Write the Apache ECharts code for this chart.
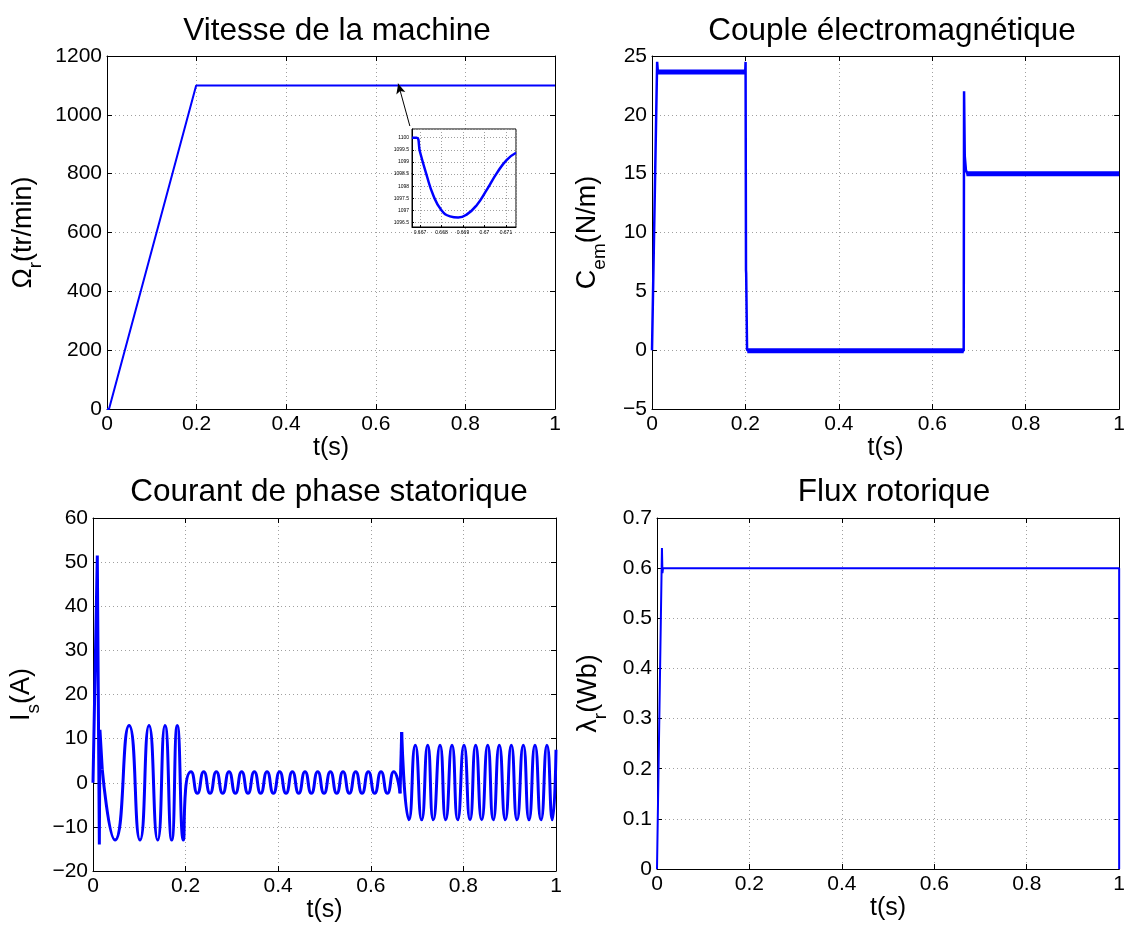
<!DOCTYPE html>
<html>
<head>
<meta charset="utf-8">
<script src="https://cdn.jsdelivr.net/npm/echarts@6/dist/echarts.min.js"></script>
<style>
html, body { margin: 0; padding: 0; background: #fff; }
#main { width: 1128px; height: 926px; }
</style>
</head>
<body>
<div id="main"></div>
<script>
// values (t in seconds)

// Vitesse de la machine (tr/min)
var speedT = [0, 0.0045, 0.199, 1];
var speedV = [0, 0, 1100, 1100];

// zoom around t = 0.667 (inset)
var zoomT = [0.66663, 0.66685, 0.6670, 0.66731, 0.66762, 0.6680, 0.6684, 0.66878, 0.66917, 0.66964, 0.6701, 0.67057, 0.67103, 0.67147];
var zoomV = [1100, 1100, 1099.42, 1098.46, 1097.63, 1097.01, 1096.76, 1096.71, 1096.83, 1097.22, 1097.84, 1098.53, 1099.08, 1099.38];

// Couple electromagnetique (N/m) - transitions
var torqueT = [0, 0.011, 0.0125, 0.1995, 0.2003, 0.2012, 0.2016, 0.2035, 0.6672, 0.668, 0.6695, 0.672, 0.675, 1];
var torqueV = [0, 24.5, 23.7, 23.6, 24.5, 6.8, 6.5, 0, -0.05, 22, 16.5, 15.3, 15, 15];
// noisy plateaus (start, end, level)
var plateauStart = [0.012, 0.204, 0.673];
var plateauEnd = [0.199, 0.6672, 1];
var plateauLevel = [23.65, -0.05, 15];

// Courant de phase statorique (A)
var curStartT = [0, 0.0093, 0.0137, 0.015, 0.02];
var curStartV = [0, 51.5, -14, 12, 3];
var curLowT = [0.02, 0.0475, 0.078, 0.1015, 0.121, 0.1397, 0.1555, 0.17, 0.182, 0.195, 0.2,
  0.2117, 0.2254, 0.2391, 0.2528, 0.2664, 0.2801, 0.2938, 0.3075, 0.3211, 0.3348, 0.3485, 0.3622,
  0.3759, 0.3896, 0.4032, 0.4169, 0.4306, 0.4443, 0.4579, 0.4716, 0.4853, 0.499, 0.5127, 0.5264,
  0.54, 0.5537, 0.5674, 0.5811, 0.5947, 0.6084, 0.6221, 0.6358, 0.6495, 0.6632];
var curLowV = [3, -13, 13, -13, 13, -13, 13, -13, 13, -13, -1.5,
  2.5, -2.4, 2.5, -2.4, 2.5, -2.4, 2.5, -2.4, 2.5, -2.4, 2.5, -2.4,
  2.5, -2.4, 2.5, -2.4, 2.5, -2.4, 2.5, -2.4, 2.5, -2.4, 2.5, -2.4,
  2.5, -2.4, 2.5, -2.4, 2.5, -2.4, 2.5, -2.4, 2.5, -2.4];
var curJumpT = [0.6632, 0.6667];
var curJumpV = [-2.4, 11.5];
var curHighT = [0.6667, 0.6825, 0.6961, 0.7099, 0.7229, 0.735, 0.7495, 0.7618, 0.7754, 0.7877,
  0.8013, 0.8143, 0.8265, 0.8395, 0.8525, 0.8646, 0.8775, 0.8905, 0.9035, 0.9158, 0.9294,
  0.9417, 0.9546, 0.9676, 0.9805, 0.992, 1];
var curHighV = [11.5, -8.4, 8.5, -8.4, 8.5, -8.4, 8.5, -8.4, 8.5, -8.4,
  8.5, -8.4, 8.5, -8.4, 8.5, -8.4, 8.5, -8.4, 8.5, -8.4, 8.5,
  -8.4, 8.5, -8.4, 8.5, -8.4, 7.5];

// Flux rotorique (Wb)
var fluxT = [0, 0.0107, 0.0118, 0.013, 1, 1];
var fluxV = [0, 0.64, 0.59, 0.6, 0.6, 0];

var FONT = 'Liberation Sans, Arial, sans-serif';
var BLUE = '#0000ff';

function pairs(t, v) {
	var out = [];
	for (var i = 0; i < t.length; i++) {
		out.push([t[i], v[i]]);
	}
	return out;
}

function fmt(v) {
	var s = String(+v.toFixed(3));
	return s.replace('-', '\u2212');
}

var grids = [
	{ left: 107, top: 56, width: 448, height: 353 },
	{ left: 652, top: 56, width: 471, height: 353 },
	{ left: 93, top: 518, width: 463, height: 353 },
	{ left: 657, top: 518, width: 465, height: 351 },
	// inset
	{ left: 412, top: 129, width: 104, height: 98, show: true, backgroundColor: '#fff', borderColor: '#000', borderWidth: 1, z: 5 }
];

var xAxes = [];
var yAxes = [];

var gridLine = { show: true, lineStyle: { color: '#a0a0a0', type: [1, 3], width: 1 } };

function addPanel(gi, yMin, yMax, yStep, yName, nameGap) {
	var tick = { inside: true, length: 5, lineStyle: { color: '#000' } };
	var line = { onZero: false, lineStyle: { color: '#000', width: 1 } };
	xAxes.push({
		gridIndex: gi, type: 'value', position: 'bottom', min: 0, max: 1, interval: 0.2,
		axisLine: line, axisTick: tick, splitLine: gridLine,
		axisLabel: { color: '#000', fontSize: 21, fontFamily: FONT, margin: 5, formatter: fmt },
		name: 't(s)', nameLocation: 'middle', nameGap: 24,
		nameTextStyle: { color: '#000', fontSize: 25, fontFamily: FONT, verticalAlign: 'top' }
	});
	xAxes.push({
		gridIndex: gi, type: 'value', position: 'top', min: 0, max: 1, interval: 0.2,
		axisLine: line, axisTick: tick, splitLine: { show: false }, axisLabel: { show: false }
	});
	yAxes.push({
		gridIndex: gi, type: 'value', position: 'left', min: yMin, max: yMax, interval: yStep,
		axisLine: line, axisTick: tick, splitLine: gridLine,
		axisLabel: { color: '#000', fontSize: 21, fontFamily: FONT, margin: 5, formatter: fmt },
		name: yName, nameLocation: 'middle', nameGap: nameGap,
		nameTextStyle: {
			color: '#000', fontFamily: FONT,
			rich: {
				a: { fontSize: 27, fontFamily: FONT, color: '#000', verticalAlign: 'bottom', padding: [0, 0, 8, 0] },
				s: { fontSize: 19, fontFamily: FONT, color: '#000', verticalAlign: 'bottom' }
			}
		}
	});
	yAxes.push({
		gridIndex: gi, type: 'value', position: 'right', min: yMin, max: yMax, interval: yStep,
		axisLine: line, axisTick: tick, splitLine: { show: false }, axisLabel: { show: false }
	});
	return { x: xAxes.length - 2, y: yAxes.length - 2 };
}

var pSpeed = addPanel(0, 0, 1200, 200, '{a|Ω}{s|r}{a|(tr/min)}', 62);
var pTorque = addPanel(1, -5, 25, 5, '{a|C}{s|em}{a|(N/m)}', 43);
var pCur = addPanel(2, -20, 60, 10, '{a|I}{s|s}{a|(A)}', 50);
var pFlux = addPanel(3, 0, 0.7, 0.1, '{a|λ}{s|r}{a|(Wb)}', 47);

// inset axes
var insetLabel = { color: '#000', fontSize: 5, fontFamily: FONT, margin: 3 };
var insetGrid = { show: true, lineStyle: { color: '#a0a0a0', type: [1, 2], width: 1 } };
xAxes.push({
	gridIndex: 4, type: 'value', position: 'bottom', min: 0.66663, max: 0.67147, splitNumber: 5, z: 6,
	axisLine: { onZero: false, lineStyle: { color: '#000' } },
	axisTick: { inside: true, length: 2, lineStyle: { color: '#000' } },
	splitLine: insetGrid, axisLabel: Object.assign({ showMinLabel: false, showMaxLabel: false, formatter: fmt }, insetLabel)
});
yAxes.push({
	gridIndex: 4, type: 'value', position: 'left', min: 1096.32, max: 1100.36, splitNumber: 8, z: 6,
	axisLine: { onZero: false, lineStyle: { color: '#000' } },
	axisTick: { inside: true, length: 2, lineStyle: { color: '#000' } },
	splitLine: insetGrid, axisLabel: Object.assign({ showMinLabel: false, showMaxLabel: false, formatter: fmt }, insetLabel)
});
var pInset = { x: xAxes.length - 1, y: yAxes.length - 1 };

function lineSeries(p, data, width, smooth, extra) {
	var s = {
		type: 'line', xAxisIndex: p.x, yAxisIndex: p.y, data: data,
		showSymbol: false, smooth: smooth, silent: true,
		lineStyle: { color: BLUE, width: width }
	};
	if (extra) {
		for (var k in extra) s[k] = extra[k];
	}
	return s;
}

var series = [];

series.push(lineSeries(pSpeed, pairs(speedT, speedV), 2, false, {
	markLine: {
		silent: true, symbol: ['none', 'arrow'], symbolSize: [7, 10],
		label: { show: false },
		lineStyle: { color: '#000', width: 1, type: 'solid' },
		data: [[{ coord: [0.676, 962] }, { coord: [0.65, 1106] }]]
	}
}));
series.push(lineSeries(pInset, pairs(zoomT, zoomV), 2.5, true, { z: 7 }));

series.push(lineSeries(pTorque, pairs(torqueT, torqueV), 2.5, false));
for (var i = 0; i < plateauLevel.length; i++) {
	series.push(lineSeries(pTorque,
		pairs([plateauStart[i], plateauEnd[i]], [plateauLevel[i], plateauLevel[i]]), 5, false));
}

series.push(lineSeries(pCur, pairs(curStartT, curStartV), 3, false));
series.push(lineSeries(pCur, pairs(curLowT, curLowV), 3, 0.6));
series.push(lineSeries(pCur, pairs(curJumpT, curJumpV), 3, false));
series.push(lineSeries(pCur, pairs(curHighT, curHighV), 3, 0.6));

series.push(lineSeries(pFlux, pairs(fluxT, fluxV), 2, false));

var titleStyle = { color: '#000', fontSize: 31.5, fontWeight: 'normal', fontFamily: FONT };
var titles = [
	{ text: 'Vitesse de la machine', left: 332, top: 10 },
	{ text: 'Couple électromagnétique', left: 887, top: 10 },
	{ text: 'Courant de phase statorique', left: 324, top: 471 },
	{ text: 'Flux rotorique', left: 889, top: 471 }
];
for (var j = 0; j < titles.length; j++) {
	titles[j].textAlign = 'center';
	titles[j].textStyle = titleStyle;
}

var chart = echarts.init(document.getElementById('main'), null, { renderer: 'canvas' });
chart.setOption({
	animation: false,
	backgroundColor: '#fff',
	title: titles,
	grid: grids,
	xAxis: xAxes,
	yAxis: yAxes,
	series: series
});
</script>
</body>
</html>
